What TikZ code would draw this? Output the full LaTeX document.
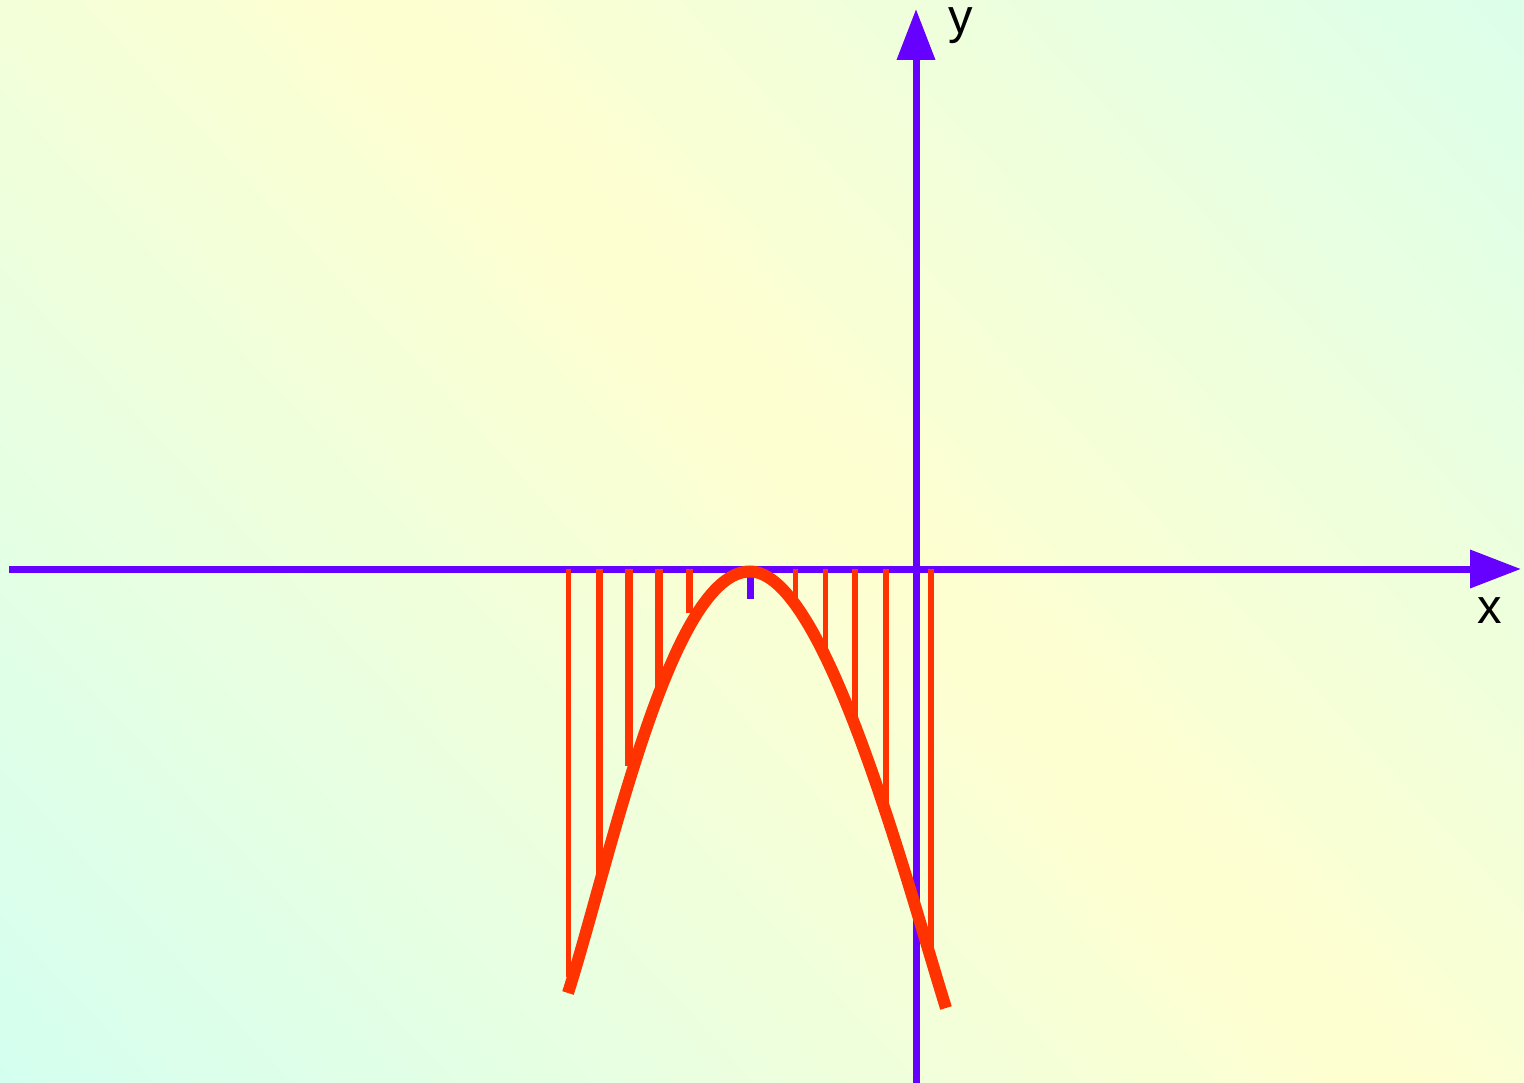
\documentclass[tikz,border=0pt]{standalone}
\usepackage{fontspec}
\setmainfont{Liberation Sans}
\usetikzlibrary{arrows.meta}
\definecolor{bgY}{RGB}{255,255,208}
\definecolor{bgC}{RGB}{212,255,240}
\definecolor{axisc}{RGB}{102,0,255}
\definecolor{curvec}{RGB}{255,51,0}
\tikzset{
  axisline/.style={draw=axisc, line width=7pt, -{Triangle[length=51pt,width=37pt]}},
  ticklin/.style={draw=axisc, line width=7pt},
  barline/.style={draw=curvec},
  curveline/.style={draw=curvec, line width=12pt},
  lbl/.style={font=\fontsize{49}{49}\selectfont, inner sep=0pt, text=black}
}
\begin{document}
\begin{tikzpicture}[x=1pt,y=-1pt]
\useasboundingbox (0,0) rectangle (1524,1083);
% background gradient
\begin{scope}
\clip (0,0) rectangle (1524,1083);
\foreach \u in {-1120,-1100,...,940}{
  \pgfmathtruncatemacro\p{max(0,min(100,100-abs(\u+10)/10.3))}
  \pgfmathsetmacro\ua{\u}
  \pgfmathsetmacro\ub{\u+21}
  \fill[bgY!\p!bgC] ({380+\ua*0.735-1360},{-\ua*0.678-1470}) -- ({380+\ub*0.735-1360},{-\ub*0.678-1470}) -- ({380+\ub*0.735+1360},{-\ub*0.678+1470}) -- ({380+\ua*0.735+1360},{-\ua*0.678+1470}) -- cycle;
}
\end{scope}
% axes
\coordinate (xs) at (9,569);
\coordinate (xe) at (1521,569);
\coordinate (ys) at (916,1090);
\coordinate (ye) at (916,9);
\draw[axisline] (xs) -- (xe);
\draw[axisline] (ys) -- (ye);
\node[lbl, anchor=base] (ylab) at (961,34) {y};
\node[lbl, anchor=base] (xlab) at (1490,623) {x};
% tick at vertex
\coordinate (t0) at (750,569);
\coordinate (t1) at (750,599);
\draw[ticklin] (t0) -- (t1);
% vertical bars
\foreach \xx/\yy/\w in {568/977/5, 599/880/7, 629/766/8, 659/690/8, 689/613/7, 795/600/5, 825/653/5, 855/725/6, 886/810/6, 931/947/6}{
  \draw[barline, line width=\w pt] (\xx,569) -- (\xx,\yy);
}
% curve
\coordinate (cL) at (568,993);
\coordinate (cT) at (750,571.5);
\coordinate (cR) at (946,1008);
\draw[curveline] (cL) .. controls (610,861.5) and (670,571.5) .. (cT)
  .. controls (825,571.5) and (906,880) .. (cR);
\end{tikzpicture}
\end{document}
